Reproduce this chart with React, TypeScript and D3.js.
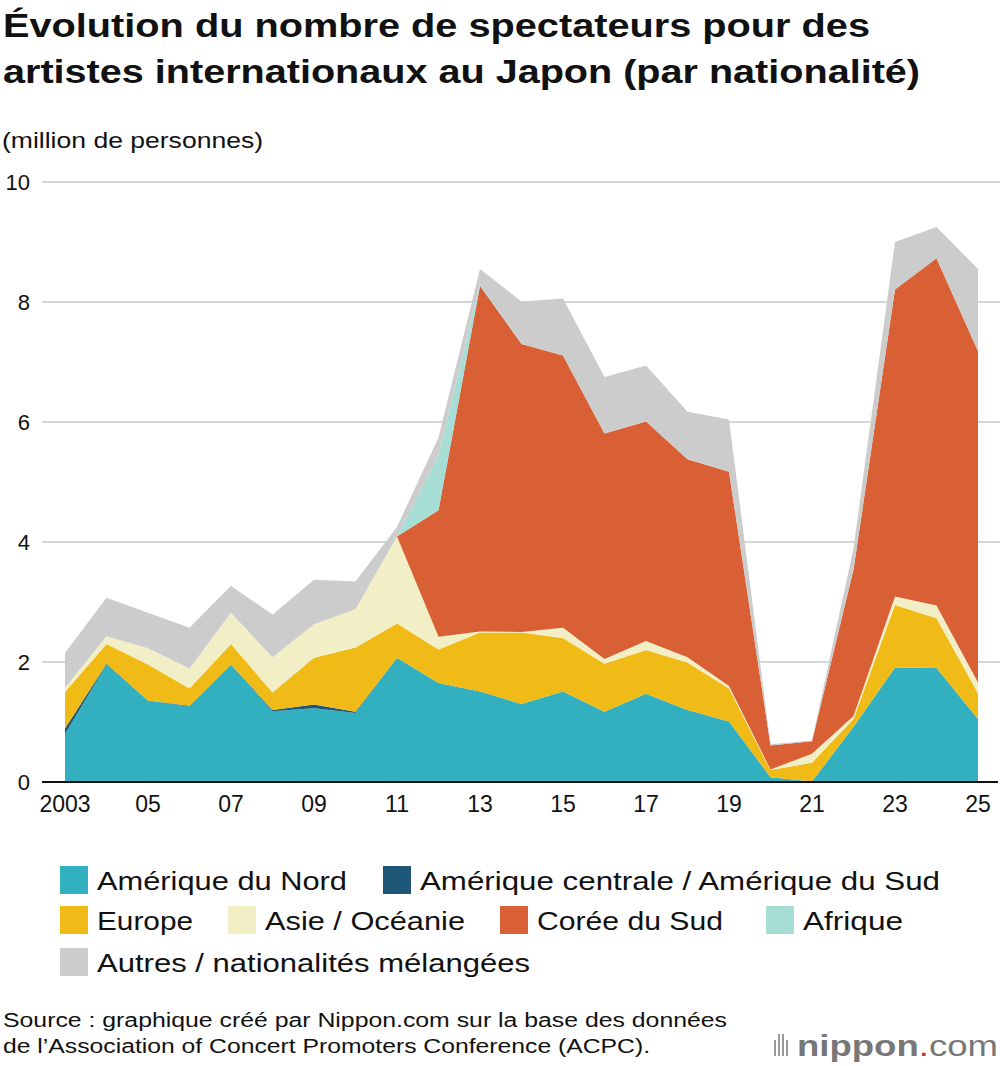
import React from "react";
import * as d3 from "d3";

const years = d3.range(2003, 2026);
const northAmerica = [0.80,1.96,1.36,1.26,1.96,1.18,1.23,1.15,2.07,1.65,1.51,1.30,1.51,1.17,1.47,1.20,1.01,0.08,0.01,0.92,1.91,1.90,1.05];
const centralSouthAmerica = [0.09,0.01,0,0.01,0,0.02,0.06,0.02,0,0,0,0,0,0,0,0,0,0,0,0,0,0,0];
const europe = [0.61,0.33,0.60,0.29,0.34,0.29,0.78,1.07,0.57,0.56,0.98,1.19,0.89,0.80,0.73,0.79,0.55,0.12,0.31,0.13,1.04,0.83,0.43];
const asiaOceania = [0.07,0.13,0.27,0.33,0.52,0.59,0.56,0.64,1.45,0.21,0.02,0.01,0.17,0.08,0.15,0.09,0.04,0.01,0.15,0.05,0.14,0.21,0.18];
const southKorea = [0,0,0,0,0,0,0,0,0,2.11,5.76,4.80,4.54,3.76,3.66,3.30,3.57,0.40,0.21,2.44,5.12,5.79,5.52];
const africa = [0,0,0,0,0,0,0,0,0,0.91,0.03,0,0,0,0,0,0,0,0,0,0,0,0];
const others = [0.58,0.64,0.59,0.68,0.45,0.71,0.74,0.46,0.16,0.30,0.25,0.71,0.95,0.94,0.93,0.79,0.87,0.02,0.01,0.35,0.79,0.52,1.37];
const xTicks = [2003, 2005, 2007, 2009, 2011, 2013, 2015, 2017, 2019, 2021, 2023, 2025];
const xTickLabels = ["2003", "05", "07", "09", "11", "13", "15", "17", "19", "21", "23", "25"];
const yTicks = [0, 2, 4, 6, 8, 10];

const seriesNames = ["Amérique du Nord", "Amérique centrale / Amérique du Sud", "Europe", "Asie / Océanie", "Corée du Sud", "Afrique", "Autres / nationalités mélangées"];
const seriesValues = [northAmerica, centralSouthAmerica, europe, asiaOceania, southKorea, africa, others];
const colors = ["#33b0bf", "#1f5778", "#f0bb16", "#f2efc6", "#d96034", "#a6ddd5", "#cccccc"];

export default function App() {
  const font = "'Liberation Sans', Arial, Helvetica, sans-serif";
  const x = d3.scaleLinear().domain([2003, 2025]).range([65, 978]);
  const y = d3.scaleLinear().domain([0, 10]).range([782, 182]);
  const table = years.map((yr, i) => {
    const row: any = { year: yr };
    seriesNames.forEach((n, k) => (row[n] = seriesValues[k][i]));
    return row;
  });
  const stacked = d3.stack().keys(seriesNames)(table);
  const area = d3.area<any>().x((d) => x(d.data.year)).y0((d) => y(d[0])).y1((d) => y(d[1]));

  // [series index, text x, text width]
  const legendRows = [
    [[0, 97, 250], [1, 420, 520]],
    [[2, 97, 96], [3, 265, 200], [4, 537, 186], [5, 803, 100]],
    [[6, 97, 433]],
  ];
  const legendY = [880, 920, 962];
  const fit = (w: number) => ({ textLength: w, lengthAdjust: "spacingAndGlyphs" as any });

  return (
    <svg width={1000} height={1066} style={{ display: "block", position: "absolute", left: 0, top: 0 }} fontFamily={font}>
      <rect width={1000} height={1066} fill="#fff" />
      <text x={3} y={37} fontSize={33} fontWeight="bold" fill="#111" {...fit(867)}>Évolution du nombre de spectateurs pour des</text>
      <text x={3} y={83} fontSize={33} fontWeight="bold" fill="#111" {...fit(917)}>artistes internationaux au Japon (par nationalité)</text>
      <text x={2} y={148} fontSize={22} fill="#111" {...fit(261)}>(million de personnes)</text>
      {yTicks.map((t) => (
        <g key={t}>
          {t > 0 && <line x1={42} x2={1000} y1={y(t)} y2={y(t)} stroke="#c8c8c8" strokeWidth={1.5} />}
          <text x={30} y={y(t) + 8} fontSize={22} textAnchor="end" fill="#111">{t}</text>
        </g>
      ))}
      {stacked.map((s, k) => (
        <path key={k} d={area(s as any) || ""} fill={colors[k]} />
      ))}
      <line x1={42} x2={998} y1={782} y2={782} stroke="#111" strokeWidth={2} />
      {xTicks.map((t, i) => (
        <text key={t} x={x(t)} y={812} fontSize={23} textAnchor="middle" fill="#111">{xTickLabels[i]}</text>
      ))}
      {legendRows.map((row, r) =>
        row.map(([k, lx, w]) => (
          <g key={k}>
            <rect x={lx - 37} y={legendY[r] - 14} width={28} height={28} fill={colors[k]} />
            <text x={lx} y={legendY[r] + 10} fontSize={26} fill="#111" {...fit(w)}>{seriesNames[k]}</text>
          </g>
        ))
      )}
      <text x={3} y={1027} fontSize={20} fill="#111" {...fit(724)}>Source : graphique créé par Nippon.com sur la base des données</text>
      <text x={3} y={1053} fontSize={20} fill="#111" {...fit(647)}>de l’Association of Concert Promoters Conference (ACPC).</text>
      <g>
        {[0, 4, 8, 12].map((dx, i) => (
          <line key={i} x1={775 + dx} x2={775 + dx} y1={i % 3 === 0 ? 1040 : 1034} y2={1056} stroke="#999" strokeWidth={2} />
        ))}
        <text x={797} y={1056} fontSize={30} fill="#777" {...fit(201)}><tspan fontWeight="bold">nippon</tspan><tspan fill="#d0312d">.</tspan>com</text>
      </g>
    </svg>
  );
}
